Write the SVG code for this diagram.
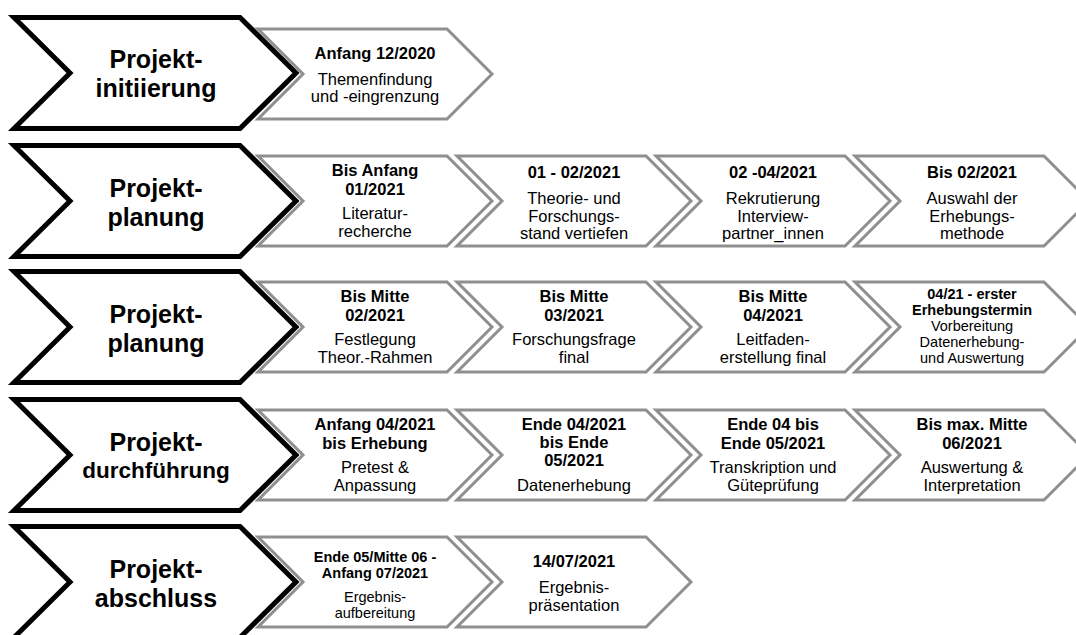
<svg xmlns="http://www.w3.org/2000/svg" xmlns:xlink="http://www.w3.org/1999/xlink" width="1076" height="635" viewBox="0 0 1076 635">
<style>
.big{fill:#fff;stroke:#000;stroke-width:5;stroke-linejoin:miter}
.sm{fill:#fff;stroke:#8f8f8f;stroke-width:3;stroke-linejoin:miter}
text{font-family:"Liberation Sans",Arial,sans-serif;text-anchor:middle;fill:#000}
.h{font-size:25px;font-weight:bold}
.h2{font-size:22.5px;font-weight:bold}
.b{font-size:16.5px;font-weight:bold}
.r{font-size:16.5px}
.bs{font-size:14.5px;font-weight:bold}
.rs{font-size:14.5px}
</style>
<defs>
<path id="bc" d="M14,-55.5 L240,-55.5 L296,0 L240,55.5 L14,55.5 L70,0 Z"/>
<path id="sc" d="M0,-45 L189,-45 L234,0 L189,45 L0,45 L45,0 Z"/>
</defs>
<rect width="1076" height="635" fill="#fff"/>

<!-- Row 1 -->
<g id="row1-phase"><use href="#bc" class="big" y="73"/>
<text class="h" x="156" y="68">Projekt-</text><text class="h" x="156" y="97">initiierung</text></g>
<g id="row1-step1"><use href="#sc" class="sm" x="258" y="74"/>
<text class="b" x="375" y="59">Anfang 12/2020</text><text class="r" x="375" y="85">Themenfindung</text><text class="r" x="375" y="102">und -eingrenzung</text></g>

<!-- Row 2 -->
<g id="row2-phase"><use href="#bc" class="big" y="201"/>
<text class="h" x="156" y="197">Projekt-</text><text class="h" x="156" y="226">planung</text></g>
<g id="row2-step1"><use href="#sc" class="sm" x="258" y="201"/>
<text class="b" x="375" y="176">Bis Anfang</text><text class="b" x="375" y="195">01/2021</text><text class="r" x="375" y="219">Literatur-</text><text class="r" x="375" y="237">recherche</text></g>
<g id="row2-step2"><use href="#sc" class="sm" x="457" y="201"/>
<text class="b" x="574" y="178">01 - 02/2021</text><text class="r" x="574" y="204">Theorie- und</text><text class="r" x="574" y="222">Forschungs-</text><text class="r" x="574" y="239">stand vertiefen</text></g>
<g id="row2-step3"><use href="#sc" class="sm" x="656" y="201"/>
<text class="b" x="773" y="178">02 -04/2021</text><text class="r" x="773" y="204">Rekrutierung</text><text class="r" x="773" y="222">Interview-</text><text class="r" x="773" y="239">partner_innen</text></g>
<g id="row2-step4"><use href="#sc" class="sm" x="855" y="201"/>
<text class="b" x="972" y="178">Bis 02/2021</text><text class="r" x="972" y="204">Auswahl der</text><text class="r" x="972" y="222">Erhebungs-</text><text class="r" x="972" y="239">methode</text></g>

<!-- Row 3 -->
<g id="row3-phase"><use href="#bc" class="big" y="327"/>
<text class="h" x="156" y="323">Projekt-</text><text class="h" x="156" y="352">planung</text></g>
<g id="row3-step1"><use href="#sc" class="sm" x="258" y="327"/>
<text class="b" x="375" y="302">Bis Mitte</text><text class="b" x="375" y="321">02/2021</text><text class="r" x="375" y="345">Festlegung</text><text class="r" x="375" y="363">Theor.-Rahmen</text></g>
<g id="row3-step2"><use href="#sc" class="sm" x="457" y="327"/>
<text class="b" x="574" y="302">Bis Mitte</text><text class="b" x="574" y="321">03/2021</text><text class="r" x="574" y="345">Forschungsfrage</text><text class="r" x="574" y="363">final</text></g>
<g id="row3-step3"><use href="#sc" class="sm" x="656" y="327"/>
<text class="b" x="773" y="302">Bis Mitte</text><text class="b" x="773" y="321">04/2021</text><text class="r" x="773" y="345">Leitfaden-</text><text class="r" x="773" y="363">erstellung final</text></g>
<g id="row3-step4"><use href="#sc" class="sm" x="855" y="327"/>
<text class="bs" x="972" y="299">04/21 - erster</text><text class="bs" x="972" y="315">Erhebungstermin</text><text class="rs" x="972" y="331">Vorbereitung</text><text class="rs" x="972" y="347">Datenerhebung-</text><text class="rs" x="972" y="363">und Auswertung</text></g>

<!-- Row 4 -->
<g id="row4-phase"><use href="#bc" class="big" y="455"/>
<text class="h" x="156" y="451">Projekt-</text><text class="h2" x="156" y="478">durchführung</text></g>
<g id="row4-step1"><use href="#sc" class="sm" x="258" y="455"/>
<text class="b" x="375" y="430">Anfang 04/2021</text><text class="b" x="375" y="449">bis Erhebung</text><text class="r" x="375" y="473">Pretest &amp;</text><text class="r" x="375" y="491">Anpassung</text></g>
<g id="row4-step2"><use href="#sc" class="sm" x="457" y="455"/>
<text class="b" x="574" y="430">Ende 04/2021</text><text class="b" x="574" y="448">bis Ende</text><text class="b" x="574" y="466">05/2021</text><text class="r" x="574" y="491">Datenerhebung</text></g>
<g id="row4-step3"><use href="#sc" class="sm" x="656" y="455"/>
<text class="b" x="773" y="430">Ende 04 bis</text><text class="b" x="773" y="449">Ende 05/2021</text><text class="r" x="773" y="473">Transkription und</text><text class="r" x="773" y="491">Güteprüfung</text></g>
<g id="row4-step4"><use href="#sc" class="sm" x="855" y="455"/>
<text class="b" x="972" y="430">Bis max. Mitte</text><text class="b" x="972" y="449">06/2021</text><text class="r" x="972" y="473">Auswertung &amp;</text><text class="r" x="972" y="491">Interpretation</text></g>

<!-- Row 5 -->
<g id="row5-phase"><use href="#bc" class="big" y="582"/>
<text class="h" x="156" y="578">Projekt-</text><text class="h" x="156" y="607">abschluss</text></g>
<g id="row5-step1"><use href="#sc" class="sm" x="258" y="582"/>
<text class="bs" x="375" y="562">Ende 05/Mitte 06 -</text><text class="bs" x="375" y="578">Anfang 07/2021</text><text class="rs" x="375" y="602">Ergebnis-</text><text class="rs" x="375" y="618">aufbereitung</text></g>
<g id="row5-step2"><use href="#sc" class="sm" x="457" y="582"/>
<text class="b" x="574" y="567">14/07/2021</text><text class="r" x="574" y="593">Ergebnis-</text><text class="r" x="574" y="611">präsentation</text></g>

<g id="connectors"/>
</svg>
